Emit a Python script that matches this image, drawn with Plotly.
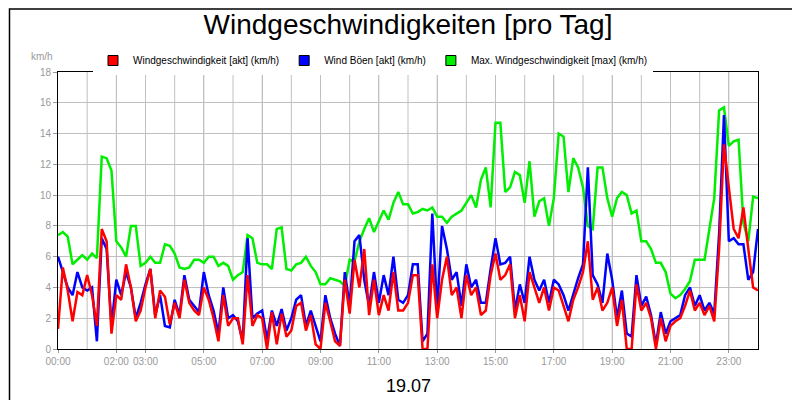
import plotly.graph_objects as go

# 10-minute samples, hours of day
times = [i / 6 for i in range(145)]

wind_max = [
    7.4, 7.6, 7.3, 5.5, 5.8, 6.1,
    5.8, 6.2, 5.9, 12.5, 12.4, 11.6,
    7.0, 6.6, 6.0, 8.0, 8.0, 5.4,
    5.6, 6.0, 5.6, 5.6, 6.8, 6.7,
    6.2, 5.3, 5.2, 5.3, 5.8, 5.8,
    5.6, 6.0, 6.0, 5.4, 5.6, 5.4,
    4.5, 4.8, 5.0, 7.4, 7.2, 5.6,
    5.5, 5.5, 5.2, 7.8, 7.9, 5.2,
    5.1, 5.5, 5.6, 6.0, 5.4, 5.0,
    4.2, 4.2, 4.6, 4.5, 4.4, 4.1,
    5.8, 5.7, 7.0, 7.8, 8.5, 7.6,
    8.3, 9.0, 8.4, 9.5, 10.2, 9.4,
    9.4, 8.8, 8.9, 9.1, 9.0, 9.2,
    8.6, 8.6, 8.2, 8.6, 8.8, 9.0,
    9.5, 10.0, 9.2, 11.0, 11.8, 9.2,
    14.7, 14.7, 10.2, 10.5, 11.5, 11.3,
    9.5, 12.2, 8.6, 9.6, 9.8, 8.0,
    9.8, 14.0, 13.8, 10.2, 12.4, 11.8,
    10.5, 8.0, 7.8, 11.8, 11.8, 9.8,
    8.6, 9.8, 10.2, 10.0, 8.8, 9.0,
    7.0, 7.0, 6.5, 5.6, 5.6, 5.0,
    3.6, 3.3, 3.5, 3.9, 4.4, 5.8,
    5.8, 5.8, 7.8, 9.8, 15.5, 15.7,
    13.2, 13.5, 13.6, 8.2, 7.0, 9.9,
    9.8,
]

wind_avg = [
    1.3, 5.3, 3.8, 1.8, 3.7, 3.5,
    4.8, 3.5, 1.5, 7.8, 7.0, 1.0,
    3.5, 3.2, 5.5, 4.0, 1.8, 2.5,
    4.0, 5.2, 2.0, 3.8, 3.4, 1.6,
    3.0, 2.0, 4.5, 3.0, 2.5, 2.2,
    4.0, 3.2, 2.0, 0.5, 3.5, 1.5,
    2.0, 2.0, 0.3, 4.8, 1.5, 2.2,
    2.0, 0.0, 2.4, 0.3, 2.3, 0.8,
    1.2, 2.8, 3.0, 1.2, 2.2, 0.3,
    0.0, 3.0, 1.8, 0.5, 0.2, 4.5,
    2.3, 5.8, 4.0, 6.5, 2.2, 4.5,
    2.2, 3.5, 2.5, 5.0, 2.5, 2.5,
    3.0, 4.8, 4.8, 0.0, 0.0, 5.5,
    2.0, 4.5, 6.0, 3.5, 4.0, 2.0,
    4.8, 3.5, 4.0, 2.2, 2.5, 4.8,
    6.2, 4.5, 4.8, 5.5, 2.0, 3.5,
    1.8, 5.0, 4.0, 3.0, 4.0, 2.5,
    4.0, 3.8, 2.8, 1.8, 3.2, 4.0,
    5.0, 7.0, 3.2, 4.0, 2.5, 3.0,
    4.0, 1.5, 3.2, 0.0, 0.0, 4.2,
    2.5, 3.0, 2.0, 0.0, 2.0, 0.5,
    1.5, 1.8, 2.0, 2.8, 3.8, 2.5,
    3.0, 2.2, 2.8, 1.8, 6.5, 13.3,
    10.5, 7.8, 7.2, 9.2, 6.5, 4.0,
    3.8,
]

wind_gust = [
    6.0, 5.0, 4.0, 3.5, 5.0, 4.0,
    3.8, 4.0, 0.5, 7.2, 6.5, 1.5,
    4.5, 3.5, 5.0, 4.0, 2.0, 3.0,
    4.2, 5.2, 2.2, 3.5, 1.5, 1.4,
    3.2, 2.2, 4.8, 3.2, 2.8, 2.4,
    5.0, 3.5, 2.5, 1.0, 4.0, 2.0,
    2.2, 1.8, 0.5, 7.2, 2.0, 2.3,
    2.5, 0.6, 2.5, 1.5, 2.6, 1.2,
    2.0, 3.2, 3.5, 1.5, 2.5, 1.5,
    0.5, 3.5, 2.0, 1.0, 0.2, 5.0,
    2.8, 7.0, 7.4, 4.5, 2.8, 5.0,
    3.0, 4.8, 3.5, 6.0, 3.2, 3.0,
    3.5, 5.5, 5.5, 0.5, 1.0, 8.8,
    2.5, 8.0, 6.5, 4.5, 5.0, 2.8,
    5.5, 4.0, 4.5, 3.0, 3.0, 5.2,
    7.2, 5.5, 5.6, 6.0, 2.5, 4.2,
    3.0, 6.0, 4.5, 3.8, 4.5, 3.0,
    4.5, 4.2, 3.5, 2.5, 3.6, 4.6,
    5.5, 11.8, 4.8, 4.2, 3.0, 6.2,
    4.5, 2.0, 3.8, 1.0, 0.8, 4.8,
    2.8, 3.4, 2.2, 0.3, 2.4, 1.0,
    1.8, 2.0, 2.2, 3.5, 4.0, 2.8,
    3.5, 2.5, 3.0, 2.3, 7.5, 15.2,
    7.0, 7.2, 6.8, 6.8, 4.5, 5.0,
    7.8,
]

tick_hours = [0, 2, 3, 5, 7, 9, 11, 13, 15, 17, 19, 21, 23]
tick_labels = ["00:00", "02:00", "03:00", "05:00", "07:00", "09:00", "11:00",
               "13:00", "15:00", "17:00", "19:00", "21:00", "23:00"]

series = [
    ("Windgeschwindigkeit [akt] (km/h)", wind_avg, "#ff0000"),
    ("Wind Böen [akt] (km/h)", wind_gust, "#0000ff"),
    ("Max. Windgeschwindigkeit [max] (km/h)", wind_max, "#00ee00"),
]

fig = go.Figure()
# draw order: max behind, gusts, then average on top
for name, vals, col in [series[2], series[1], series[0]]:
    fig.add_trace(go.Scatter(x=times, y=vals, mode="lines", showlegend=False,
                             line=dict(color=col, width=2.5)))
# legend entries as square markers
for name, vals, col in series:
    fig.add_trace(go.Scatter(x=[None], y=[None], mode="markers", name=name,
                             marker=dict(symbol="square", size=10, color=col,
                                         line=dict(color="black", width=1))))

fig.update_layout(
    width=800, height=400,
    paper_bgcolor="white", plot_bgcolor="white",
    margin=dict(l=50, r=50, t=64, b=59, autoexpand=False),
    font=dict(family="Liberation Sans, Arial", size=10, color="#999999"),
    title=dict(text="Windgeschwindigkeiten [pro Tag]", x=0.5, y=0.985, yanchor="top",
               font=dict(size=28, color="black")),
    legend=dict(orientation="h", x=0.05, y=0.905, yref="container", yanchor="top",
                xanchor="left", font=dict(size=10, color="black"), itemwidth=30,
                tracegroupgap=0),
    xaxis=dict(range=[0, 24], tickvals=tick_hours, ticktext=tick_labels,
               showgrid=True, gridcolor="#c0c0c0", tickmode="array",
               showline=True, linecolor="black", linewidth=1, mirror=True,
               ticks="outside", ticklen=3, tickcolor="#999999", zeroline=False),
    yaxis=dict(range=[0, 18], dtick=2, gridcolor="#c0c0c0", showline=True,
               linecolor="black", linewidth=1, mirror=True, ticks="outside",
               ticklen=4, tickcolor="#999999", zeroline=False),
    annotations=[
        dict(text="km/h", xref="paper", yref="paper", x=-0.005, y=1.03,
             xanchor="right", yanchor="bottom", showarrow=False,
             font=dict(size=10, color="#999999")),
        dict(text="19.07", xref="paper", yref="paper", x=0.5, y=-0.09,
             yanchor="top", showarrow=False, font=dict(size=18, color="black")),
    ],
    shapes=[dict(type="rect", xref="paper", yref="paper", x0=-0.0693, x1=1.0693,
                 y0=-0.2094, y1=1.2274, line=dict(color="black", width=1.5))]
    + [dict(type="line", xref="x", yref="paper", x0=h, x1=h, y0=0, y1=1,
            line=dict(color="#c0c0c0", width=1), layer="below") for h in range(1, 24)],
)

fig.write_html("out.html")
